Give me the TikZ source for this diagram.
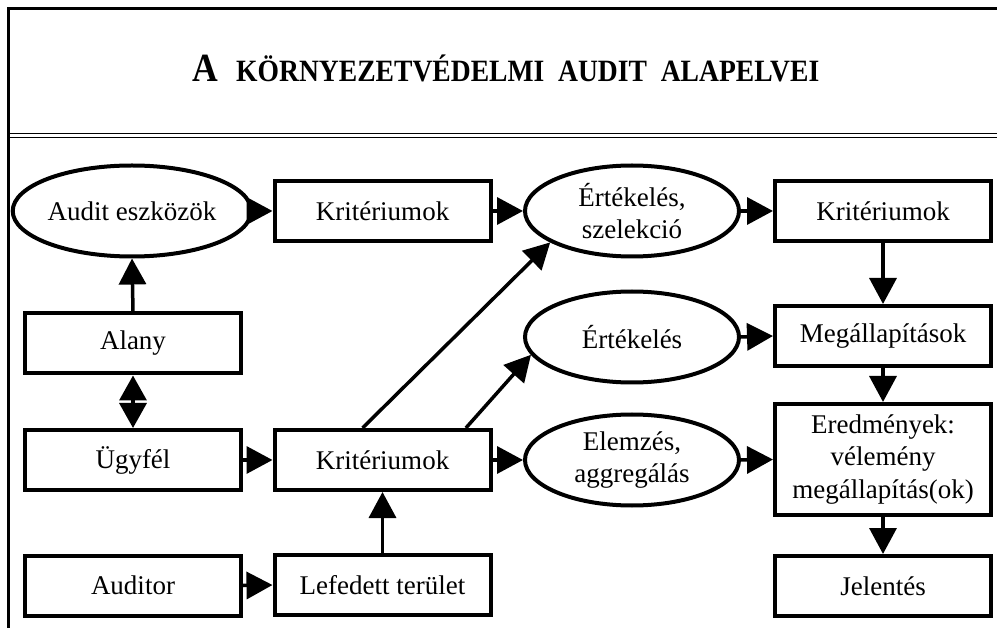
\documentclass[tikz,border=0pt]{standalone}
\usepackage{fontspec}
\setmainfont{Liberation Serif}
\usetikzlibrary{shapes.geometric,arrows.meta}

\tikzset{
  body/.style={font=\fontsize{27}{32.5}\selectfont},
  box/.style={draw, line width=4pt, rectangle, minimum width=216pt,
    minimum height=60pt, inner sep=0pt, align=center, body},
  oval/.style={draw, line width=4pt, ellipse, minimum width=214pt,
    minimum height=91pt, inner sep=0pt, align=center, body},
  arr/.style={line width=3.5pt, -{Triangle[length=26pt,width=27pt]}},
  dblarr/.style={line width=3.5pt, {Triangle[length=25pt,width=27pt]}-{Triangle[length=25pt,width=27pt]}},
  frame/.style={line width=3.2pt},
  rule/.style={line width=1.8pt}
}

\begin{document}
\begin{tikzpicture}[x=1pt,y=-1pt]
\useasboundingbox (0,0) rectangle (997,628);

% outer frame and title band
\draw[frame] (8.5,628) -- (8.5,8.5) -- (997,8.5);
\draw[rule] (8.5,133.5) -- (997,133.5);
\draw[rule] (8.5,137.5) -- (997,137.5);

\node[anchor=base, inner sep=0pt] (title) at (506,82)
  {\bfseries\scalebox{0.89}[1]{\fontsize{40}{40}\selectfont A\ \ \fontsize{31}{31}\selectfont K\"ORNYEZETV\'EDELMI\ \ AUDIT\ \ ALAPELVEI}};

% left column
\node[oval] (eszk) at (132,211) {Audit eszközök};
\node[box]  (alany) at (133,343.5) {Alany};
\node[box]  (ugy) at (133,460) {Ügyfél};
\node[box]  (aud) at (133,585.5) {Auditor};

% middle column
\node[box] (k1) at (382.5,211) {Kritériumok};
\node[box] (k3) at (382.5,460) {Kritériumok};
\node[box] (lef) at (382.5,585) {Lefedett terület};

% evaluation ellipses
\node[oval] (ertsz) at (632,211) {Értékelés,\\szelekció};
\node[oval] (ert) at (632,337) {Értékelés};
\node[oval] (elem) at (632,460) {Elemzés,\\aggregálás};

% right column
\node[box] (k2) at (883,211) {Kritériumok};
\node[box] (meg) at (883,336) {Megállapítások};
\node[box, minimum height=111pt] (ered) at (883,459.5) {Eredmények:\\vélemény\\megállapítás(ok)};
\node[box] (jel) at (883,586) {Jelentés};

% connectors
\draw[arr] (eszk.east) -- (k1.west);
\draw[arr] (k1.east) -- (ertsz.west);
\draw[arr] (ertsz.east) -- (k2.west);
\draw[arr] (k2.south) -- (meg.north);
\draw[arr] (alany.north) -- (eszk.south);
\draw[dblarr] (alany.south) -- (ugy.north);
\draw[arr] (ugy.east) -- (k3.west);
\draw[arr] (aud.east) -- (lef.west);
\draw[arr] (lef.north) -- (k3.south);
\draw[arr] (k3.east) -- (elem.west);
\draw[arr] (k3.122.6) -- (ertsz.201);
\draw[arr] (k3.21.9) -- (ert.190);
\draw[arr] (ert.east) -- (meg.west);
\draw[arr] (meg.south) -- (ered.north);
\draw[arr] (elem.east) -- (ered.west);
\draw[arr] (ered.south) -- (jel.north);
\end{tikzpicture}
\end{document}
